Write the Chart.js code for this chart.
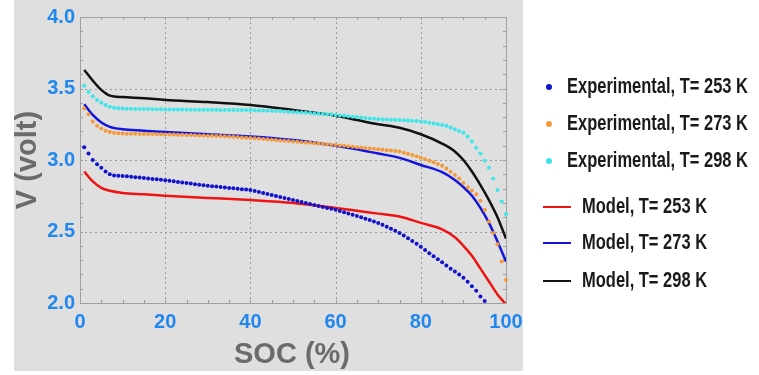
<!DOCTYPE html>
<html>
<head>
<meta charset="utf-8">
<script src="https://cdn.jsdelivr.net/npm/chart.js@4.4.1/dist/chart.umd.min.js"></script>
<style>
html, body { margin: 0; padding: 0; background: #fff; }
</style>
</head>
<body>
<canvas id="chart" width="759" height="375"></canvas>
<script>
// Experimental points, one every 1 % SOC
const expSoc = [
    1, 2, 3, 4, 5, 6, 7, 8, 9, 10, 11, 12, 13, 14, 15, 16, 17, 18, 19, 20,
    21, 22, 23, 24, 25, 26, 27, 28, 29, 30, 31, 32, 33, 34, 35, 36, 37, 38, 39, 40,
    41, 42, 43, 44, 45, 46, 47, 48, 49, 50, 51, 52, 53, 54, 55, 56, 57, 58, 59, 60,
    61, 62, 63, 64, 65, 66, 67, 68, 69, 70, 71, 72, 73, 74, 75, 76, 77, 78, 79, 80,
    81, 82, 83, 84, 85, 86, 87, 88, 89, 90, 91, 92, 93, 94, 95, 96, 97, 98, 99, 100
];
const exp253 = [
    3.09, 3.045, 3.00, 2.97, 2.945, 2.92, 2.90, 2.892, 2.89, 2.888,
    2.886, 2.883, 2.88, 2.877, 2.874, 2.871, 2.868, 2.865, 2.862, 2.859,
    2.855, 2.851, 2.847, 2.843, 2.839, 2.835, 2.831, 2.827, 2.823, 2.82,
    2.817, 2.814, 2.811, 2.808, 2.805, 2.802, 2.799, 2.796, 2.793, 2.79,
    2.783, 2.776, 2.769, 2.762, 2.755, 2.748, 2.741, 2.734, 2.727, 2.72,
    2.713, 2.706, 2.699, 2.692, 2.685, 2.678, 2.672, 2.665, 2.659, 2.652,
    2.644, 2.635, 2.626, 2.617, 2.608, 2.599, 2.59, 2.58, 2.57, 2.56,
    2.547, 2.534, 2.52, 2.505, 2.49, 2.472, 2.453, 2.434, 2.414, 2.394,
    2.37, 2.348, 2.327, 2.306, 2.285, 2.262, 2.24, 2.22, 2.199, 2.177,
    2.148, 2.117, 2.085, 2.045, 2.014
];
const exp273 = [
    3.36, 3.32, 3.27, 3.24, 3.22, 3.205, 3.195, 3.19, 3.187, 3.185,
    3.184, 3.183, 3.183, 3.182, 3.182, 3.181, 3.181, 3.18, 3.18, 3.179,
    3.178, 3.178, 3.177, 3.176, 3.175, 3.174, 3.173, 3.172, 3.171, 3.17,
    3.169, 3.168, 3.167, 3.166, 3.164, 3.162, 3.16, 3.158, 3.156, 3.154,
    3.152, 3.15, 3.147, 3.145, 3.142, 3.14, 3.137, 3.135, 3.132, 3.13,
    3.127, 3.125, 3.122, 3.12, 3.117, 3.115, 3.112, 3.11, 3.107, 3.105,
    3.102, 3.099, 3.096, 3.093, 3.09, 3.087, 3.084, 3.081, 3.078, 3.075,
    3.072, 3.069, 3.066, 3.063, 3.06, 3.05, 3.043, 3.035, 3.026, 3.016,
    3.006, 2.995, 2.984, 2.972, 2.96, 2.94, 2.917, 2.895, 2.87, 2.84,
    2.81, 2.787, 2.76, 2.715, 2.65, 2.57, 2.49, 2.41, 2.29, 2.16
];
const exp298 = [
    3.52, 3.475, 3.445, 3.42, 3.40, 3.384, 3.372, 3.366, 3.362, 3.36,
    3.359, 3.358, 3.357, 3.357, 3.356, 3.356, 3.355, 3.355, 3.355, 3.354,
    3.354, 3.354, 3.353, 3.353, 3.353, 3.352, 3.352, 3.352, 3.351, 3.351,
    3.351, 3.351, 3.35, 3.35, 3.35, 3.35, 3.35, 3.349, 3.349, 3.349,
    3.348, 3.347, 3.346, 3.345, 3.344, 3.343, 3.342, 3.34, 3.338, 3.336,
    3.334, 3.332, 3.33, 3.328, 3.326, 3.324, 3.322, 3.32, 3.318, 3.315,
    3.312, 3.309, 3.306, 3.303, 3.30, 3.297, 3.294, 3.291, 3.288, 3.285,
    3.284, 3.283, 3.282, 3.281, 3.28, 3.278, 3.276, 3.274, 3.272, 3.27,
    3.266, 3.261, 3.256, 3.25, 3.245, 3.24, 3.228, 3.215, 3.202, 3.19,
    3.165, 3.13, 3.085, 3.045, 2.995, 2.945, 2.87, 2.79, 2.71, 2.62
];

// Model curves
const modelSoc = [1, 3, 5, 7, 10, 15, 20, 30, 40, 50, 60, 65, 70, 75, 80, 85, 88, 90, 92, 94, 96, 98, 100];
const model253 = [2.92, 2.85, 2.805, 2.785, 2.77, 2.76, 2.75, 2.735, 2.72, 2.70, 2.665, 2.645, 2.625, 2.605, 2.56, 2.515, 2.46, 2.40, 2.33, 2.24, 2.15, 2.06, 1.99];
const model273 = [3.39, 3.315, 3.262, 3.232, 3.215, 3.205, 3.195, 3.18, 3.165, 3.14, 3.10, 3.075, 3.045, 3.015, 2.965, 2.915, 2.86, 2.81, 2.75, 2.665, 2.56, 2.43, 2.29];
const model298 = [3.63, 3.555, 3.49, 3.45, 3.44, 3.432, 3.42, 3.405, 3.385, 3.35, 3.31, 3.28, 3.25, 3.225, 3.18, 3.115, 3.06, 3.0, 2.92, 2.825, 2.72, 2.6, 2.45];

const xTicks = [0, 20, 40, 60, 80, 100];
const yTicks = [2.0, 2.5, 3.0, 3.5, 4.0];

const seriesLabels = [
    'Experimental, T= 253 K',
    'Experimental, T= 273 K',
    'Experimental, T= 298 K',
    'Model, T= 253 K',
    'Model, T= 273 K',
    'Model, T= 298 K'
];

const toPoints = (xs, ys) => ys.map((y, i) => ({ x: xs[i], y: y }));

const dotSet = (label, xs, ys, color) => ({
    label: label,
    data: toPoints(xs, ys),
    showLine: false,
    pointRadius: 2,
    pointBackgroundColor: color,
    pointBorderWidth: 0,
    borderColor: color,
    backgroundColor: color,
    clip: 4
});

const lineSet = (label, xs, ys, color) => ({
    label: label,
    data: toPoints(xs, ys),
    borderColor: color,
    backgroundColor: color,
    borderWidth: 2.5,
    pointRadius: 0,
    cubicInterpolationMode: 'monotone',
    fill: false
});

const TICK_FONT = { family: '"Liberation Sans", Arial, sans-serif', size: 20, weight: 'bold' };
const TICK_COLOR = '#1f87ee';

/**
 * Gray panel behind the plot, dotted grid, frame, minor ticks, axis titles and the legend
 */
const decorPlugin = {
    id: 'decor',
    beforeDraw: (chart) => {
        const ctx = chart.ctx;
        ctx.save();
        ctx.fillStyle = '#dfdfdf';
        ctx.fillRect(14, 0, 509, 371);
        ctx.restore();
    },
    beforeDatasetsDraw: (chart) => {
        const ctx = chart.ctx;
        const area = chart.chartArea;
        const xs = chart.scales.x;
        const ys = chart.scales.y;

        ctx.save();
        // dotted grid on the major ticks
        ctx.strokeStyle = '#9a9a9a';
        ctx.lineWidth = 1;
        ctx.setLineDash([2, 3]);
        ctx.beginPath();
        xs.ticks.forEach(t => {
            const px = Math.round(xs.getPixelForValue(t.value)) + 0.5;
            ctx.moveTo(px, area.top);
            ctx.lineTo(px, area.bottom);
        });
        ys.ticks.forEach(t => {
            const py = Math.round(ys.getPixelForValue(t.value)) + 0.5;
            ctx.moveTo(area.left, py);
            ctx.lineTo(area.right, py);
        });
        ctx.stroke();
        ctx.setLineDash([]);

        // minor ticks on the frame
        ctx.strokeStyle = '#9c9c9c';
        ctx.beginPath();
        for (let v = 5; v < 100; v += 5) {
            const px = Math.round(xs.getPixelForValue(v)) + 0.5;
            ctx.moveTo(px, area.bottom);
            ctx.lineTo(px, area.bottom - 3);
            ctx.moveTo(px, area.top);
            ctx.lineTo(px, area.top + 3);
        }
        for (let k = 1; k < 20; k++) {
            const py = Math.round(ys.getPixelForValue(2 + k / 10)) + 0.5;
            ctx.moveTo(area.left, py);
            ctx.lineTo(area.left + 3, py);
            ctx.moveTo(area.right, py);
            ctx.lineTo(area.right - 3, py);
        }
        ctx.stroke();

        ctx.strokeStyle = '#a0a0a0';
        ctx.strokeRect(Math.round(area.left) + 0.5, Math.round(area.top) + 0.5,
            Math.round(area.right - area.left), Math.round(area.bottom - area.top));
        ctx.restore();
    },
    afterDraw: (chart) => {
        const ctx = chart.ctx;
        const area = chart.chartArea;
        ctx.save();

        // axis titles
        ctx.fillStyle = '#6b6b6b';
        ctx.font = 'bold 29px "Liberation Sans", Arial, sans-serif';
        ctx.textAlign = 'center';
        ctx.textBaseline = 'middle';
        ctx.fillText('SOC (%)', 292, 355);
        ctx.translate(28, (area.top + area.bottom) / 2);
        ctx.rotate(-Math.PI / 2);
        ctx.fillText('V (volt)', 0, 0);
        ctx.setTransform(1, 0, 0, 1, 0, 0);

        // legend, text squeezed to the narrow face of the original
        const rowsY = [87, 124, 161, 207, 243, 281];
        ctx.font = 'bold 22px "Liberation Sans", Arial, sans-serif';
        ctx.textAlign = 'left';
        ctx.textBaseline = 'middle';
        const squeeze = 181 / ctx.measureText(seriesLabels[0]).width;
        const drawLabel = (text, x, y) => {
            ctx.save();
            ctx.translate(x, y);
            ctx.scale(squeeze, 1);
            ctx.fillStyle = '#1a1a1a';
            ctx.fillText(text, 0, 0);
            ctx.restore();
        };
        chart.data.datasets.forEach((ds, i) => {
            const y = rowsY[i];
            if (ds.showLine === false) {
                ctx.fillStyle = ds.pointBackgroundColor;
                ctx.beginPath();
                ctx.arc(549, y, 3, 0, Math.PI * 2);
                ctx.fill();
                drawLabel(ds.label, 567, y);
            } else {
                ctx.strokeStyle = ds.borderColor;
                ctx.lineWidth = 2;
                ctx.beginPath();
                ctx.moveTo(543, y);
                ctx.lineTo(571, y);
                ctx.stroke();
                drawLabel(ds.label, 582, y);
            }
        });
        ctx.restore();
    }
};

const chart = new Chart(document.getElementById('chart'), { // eslint-disable-line no-unused-vars
    type: 'line',
    data: {
        datasets: [
            dotSet(seriesLabels[0], expSoc, exp253, '#1212cc'),
            dotSet(seriesLabels[1], expSoc, exp273, '#f39a3a'),
            dotSet(seriesLabels[2], expSoc, exp298, '#3ee6ea'),
            lineSet(seriesLabels[3], modelSoc, model253, '#ee1414'),
            lineSet(seriesLabels[4], modelSoc, model273, '#1414dc'),
            lineSet(seriesLabels[5], modelSoc, model298, '#111111')
        ]
    },
    options: {
        responsive: false,
        animation: false,
        layout: { padding: { left: 14, right: 253, top: 13, bottom: 0 } },
        plugins: {
            legend: { display: false },
            tooltip: { enabled: false }
        },
        scales: {
            x: {
                type: 'linear',
                min: 0,
                max: 100,
                afterFit: (scale) => { scale.height = 72; },
                afterBuildTicks: (scale) => { scale.ticks = xTicks.map(v => ({ value: v })); },
                ticks: {
                    font: TICK_FONT,
                    color: TICK_COLOR,
                    padding: 7,
                    maxRotation: 0,
                    callback: (v) => String(v)
                },
                grid: { display: false, drawTicks: false },
                border: { display: false }
            },
            y: {
                min: 2,
                max: 4,
                afterFit: (scale) => { scale.width = 66; },
                afterBuildTicks: (scale) => { scale.ticks = yTicks.map(v => ({ value: v })); },
                ticks: {
                    font: TICK_FONT,
                    color: TICK_COLOR,
                    padding: 5,
                    callback: (v) => Number(v).toFixed(1)
                },
                grid: { display: false, drawTicks: false },
                border: { display: false }
            }
        }
    },
    plugins: [decorPlugin]
});
</script>
</body>
</html>
